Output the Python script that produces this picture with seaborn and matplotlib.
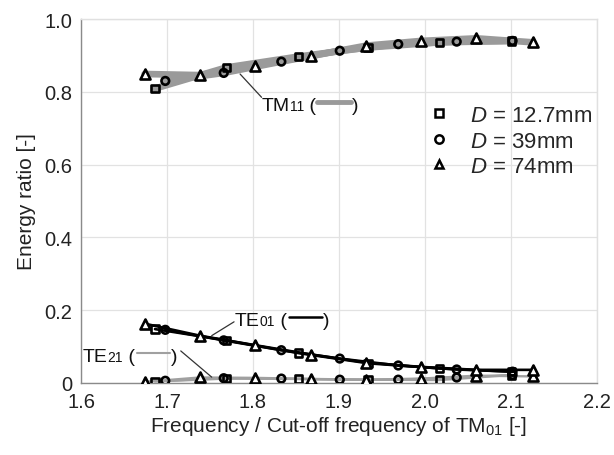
import numpy as np
import pandas as pd
import matplotlib
matplotlib.use("Agg")
import matplotlib.pyplot as plt
import seaborn as sns
from matplotlib.lines import Line2D
from matplotlib.offsetbox import TextArea, DrawingArea, HPacker, AnnotationBbox

# ---- data ----
diameters = ["D = 12.7mm", "D = 39mm", "D = 74mm"]

f_127 = [1.686, 1.769, 1.853, 1.934, 2.017, 2.101]
f_39 = [1.698, 1.766, 1.833, 1.901, 1.969, 2.037, 2.102]
f_74 = [1.674, 1.738, 1.802, 1.868, 1.932, 1.996, 2.060, 2.126]

tm11_127 = [0.809, 0.867, 0.897, 0.922, 0.936, 0.940]
tm11_39 = [0.830, 0.852, 0.883, 0.913, 0.931, 0.938, 0.940]
tm11_74 = [0.849, 0.846, 0.872, 0.899, 0.927, 0.940, 0.947, 0.936]

te01_127 = [0.148, 0.117, 0.082, 0.054, 0.040, 0.031]
te01_39 = [0.146, 0.117, 0.090, 0.067, 0.048, 0.037, 0.031]
te01_74 = [0.163, 0.130, 0.104, 0.078, 0.056, 0.044, 0.036, 0.036]

te21_127 = [0.004, 0.012, 0.011, 0.009, 0.008, 0.022]
te21_39 = [0.006, 0.013, 0.012, 0.009, 0.009, 0.015, 0.022]
te21_74 = [0.003, 0.015, 0.014, 0.011, 0.009, 0.012, 0.020, 0.018]

x_ticks = [1.6, 1.7, 1.8, 1.9, 2.0, 2.1, 2.2]
y_ticks = [0, 0.2, 0.4, 0.6, 0.8, 1.0]
y_ticklabels = ["0", "0.2", "0.4", "0.6", "0.8", "1.0"]

freqs = {"D = 12.7mm": f_127, "D = 39mm": f_39, "D = 74mm": f_74}
modes = {
    "TM11": {"D = 12.7mm": tm11_127, "D = 39mm": tm11_39, "D = 74mm": tm11_74},
    "TE01": {"D = 12.7mm": te01_127, "D = 39mm": te01_39, "D = 74mm": te01_74},
    "TE21": {"D = 12.7mm": te21_127, "D = 39mm": te21_39, "D = 74mm": te21_74},
}
rows = []
for mode, series in modes.items():
    for d in diameters:
        for f, r in zip(freqs[d], series[d]):
            rows.append({"mode": mode, "D": d, "f": f, "ratio": r})
df = pd.DataFrame(rows)

# ---- style ----
sns.set_theme(style="white")
plt.rcParams["font.family"] = ["Liberation Sans", "DejaVu Sans"]
plt.rcParams["mathtext.fontset"] = "custom"
plt.rcParams["mathtext.rm"] = "Liberation Sans"
plt.rcParams["mathtext.it"] = "Liberation Sans:italic"

fig = plt.figure(figsize=(6.14, 4.56), dpi=100)
ax = fig.add_axes([0.132, 0.158, 0.840, 0.798])

line_styles = {
    "TM11": dict(color="#9a9a9a", lw=4.8),
    "TE01": dict(color="#000000", lw=1.9),
    "TE21": dict(color="#a0a0a0", lw=1.7),
}
markers = {"D = 12.7mm": "s", "D = 39mm": "o", "D = 74mm": "^"}
sizes = {"D = 12.7mm": 28, "D = 39mm": 30, "D = 74mm": 52}
fills = {"D = 12.7mm": "none", "D = 39mm": "none", "D = 74mm": "white"}

for mode in ["TE21", "TE01", "TM11"]:
    sub = df[df["mode"] == mode]
    for d in diameters:
        s2 = sub[sub["D"] == d]
        sns.lineplot(data=s2, x="f", y="ratio", ax=ax, sort=False,
                     estimator=None, legend=False, zorder=2,
                     **line_styles[mode])
    for d in diameters:
        s2 = sub[sub["D"] == d]
        sns.scatterplot(data=s2, x="f", y="ratio", ax=ax, marker=markers[d],
                        s=sizes[d], facecolor=fills[d], edgecolor="black",
                        linewidth=1.9, legend=False, zorder=3)

ax.set_xlim(1.6, 2.2)
ax.set_ylim(0, 1.0)
ax.set_xticks(x_ticks)
ax.set_xticklabels([f"{t:.1f}" for t in x_ticks])
ax.set_yticks(y_ticks)
ax.set_yticklabels(y_ticklabels)
ax.tick_params(labelsize=14.5, colors="#222222", length=3, color="#999999")
ax.grid(True, color="#e2e2e2", lw=0.9)
ax.set_axisbelow(True)
for side in ["left", "bottom"]:
    ax.spines[side].set_color("#8a8a8a")
    ax.spines[side].set_linewidth(1.0)
for side in ["top", "right"]:
    ax.spines[side].set_color("#e0e0e0")
    ax.spines[side].set_linewidth(1.0)

ax.set_xlabel("Frequency / Cut-off frequency of TM$_{01}$ [-]", fontsize=15, color="#222222", labelpad=2)
ax.set_ylabel("Energy ratio [-]", fontsize=15, color="#222222", labelpad=6)

# legend
handles = [Line2D([], [], ls="none", marker=markers[d], ms=6.0, mfc="white",
                  mec="black", mew=1.8) for d in diameters]
labels = [f"$D$ = {d.split('= ')[1]}" for d in diameters]
ax.legend(handles, labels, loc="upper left", bbox_to_anchor=(0.643, 0.806),
          frameon=False, fontsize=16, handlelength=1.0, handletextpad=0.9,
          labelspacing=0.2, borderpad=0.2)


def mode_label(ax, name, sub, color, lw, xytext, leader):
    t1 = TextArea(name, textprops=dict(fontsize=14, color="#111111"))
    t1b = TextArea(sub, textprops=dict(fontsize=10, color="#111111"))
    t2 = TextArea(" (", textprops=dict(fontsize=14, color="#111111"))
    da = DrawingArea(26, 12, 0, 0)
    da.add_artist(Line2D([1, 25], [5.5, 5.5], color=color, lw=lw))
    t3 = TextArea(")", textprops=dict(fontsize=14, color="#111111"))
    box = HPacker(children=[t1, t1b, t2, da, t3], pad=0, sep=0, align="baseline")
    ab = AnnotationBbox(box, xytext, xycoords="data", frameon=False,
                        box_alignment=(0.0, 0.5))
    ax.add_artist(ab)
    (x0, y0), (x1, y1) = leader
    ax.annotate("", xy=(x1, y1), xytext=(x0, y0),
                arrowprops=dict(arrowstyle="-", color="#333333", lw=0.9,
                                shrinkA=0, shrinkB=0))


mode_label(ax, "TM", "11", "#9a9a9a", 3.5, (1.81, 0.768), ((1.81, 0.785), (1.785, 0.849)))
mode_label(ax, "TE", "01", "#000000", 1.8, (1.779, 0.178), ((1.778, 0.168), (1.752, 0.130)))
mode_label(ax, "TE", "21", "#a0a0a0", 1.5, (1.602, 0.078), ((1.716, 0.088), (1.752, 0.016)))

fig.savefig("out.png", dpi=100)
